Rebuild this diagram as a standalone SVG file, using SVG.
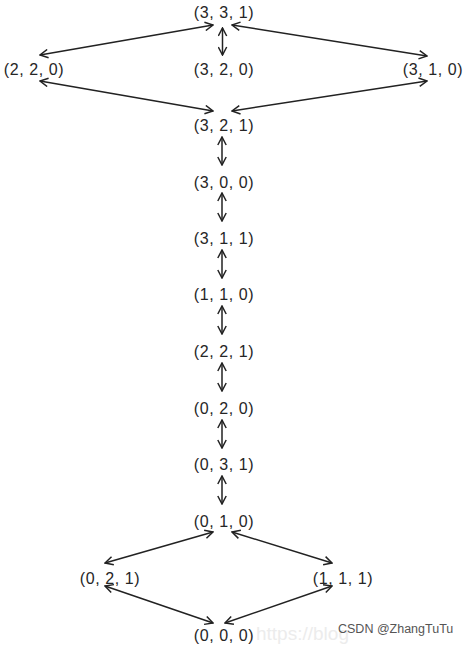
<svg xmlns="http://www.w3.org/2000/svg" width="472" height="652" viewBox="0 0 472 652">
<style>
text.n{font-family:"Liberation Sans",Arial,sans-serif;font-size:16px;letter-spacing:0.6px;fill:#262626;text-anchor:middle}
.e{stroke:#222;stroke-width:1.5;fill:none;marker-start:url(#ah);marker-end:url(#ah)}
</style>
<defs>
<marker id="ah" viewBox="0 0 10 10" refX="9" refY="5" markerWidth="10" markerHeight="10" markerUnits="userSpaceOnUse" orient="auto-start-reverse">
<path d="M1,0.8 L9,5 L1,9.2" fill="none" stroke="#222" stroke-width="1.5"/>
</marker>
</defs>
<rect width="472" height="652" fill="#fff"/>
<text x="256" y="640" font-family="Liberation Sans,Arial,sans-serif" font-size="19" fill="#ececec">https://blog</text>
<g id="edges">
<line class="e" x1="40" y1="55" x2="213" y2="25"/>
<line class="e" x1="232" y1="25" x2="427" y2="56"/>
<line class="e" x1="222.5" y1="28" x2="222.5" y2="55"/>
<line class="e" x1="40" y1="81" x2="213" y2="111"/>
<line class="e" x1="427" y1="81" x2="232" y2="111"/>
<line class="e" x1="222" y1="137" x2="222" y2="165"/>
<line class="e" x1="222" y1="193" x2="222" y2="221"/>
<line class="e" x1="222" y1="250" x2="222" y2="278"/>
<line class="e" x1="222" y1="306" x2="222" y2="334"/>
<line class="e" x1="222" y1="363" x2="222" y2="391"/>
<line class="e" x1="222" y1="420" x2="222" y2="448"/>
<line class="e" x1="222" y1="476" x2="222" y2="504"/>
<line class="e" x1="213" y1="532" x2="105" y2="563"/>
<line class="e" x1="232" y1="532" x2="332" y2="563"/>
<line class="e" x1="105" y1="586" x2="213" y2="623"/>
<line class="e" x1="332" y1="586" x2="225" y2="623"/>
</g>
<g id="n331"><text class="n" x="224" y="18">(3, 3, 1)</text></g>
<g id="n220"><text class="n" x="34" y="75">(2, 2, 0)</text></g>
<g id="n320"><text class="n" x="224" y="75">(3, 2, 0)</text></g>
<g id="n310"><text class="n" x="433" y="75">(3, 1, 0)</text></g>
<g id="n321"><text class="n" x="224" y="131">(3, 2, 1)</text></g>
<g id="n300"><text class="n" x="224" y="188">(3, 0, 0)</text></g>
<g id="n311"><text class="n" x="224" y="244">(3, 1, 1)</text></g>
<g id="n110"><text class="n" x="224" y="300">(1, 1, 0)</text></g>
<g id="n221"><text class="n" x="224" y="357">(2, 2, 1)</text></g>
<g id="n020"><text class="n" x="224" y="414">(0, 2, 0)</text></g>
<g id="n031"><text class="n" x="224" y="470">(0, 3, 1)</text></g>
<g id="n010"><text class="n" x="224" y="527">(0, 1, 0)</text></g>
<g id="n021"><text class="n" x="110" y="584">(0, 2, 1)</text></g>
<g id="n111"><text class="n" x="343" y="584">(1, 1, 1)</text></g>
<g id="n000"><text class="n" x="224" y="641">(0, 0, 0)</text></g>
<text x="338" y="633" font-family="Liberation Sans,Arial,sans-serif" font-size="12.5" fill="#555">CSDN @ZhangTuTu</text>
</svg>
